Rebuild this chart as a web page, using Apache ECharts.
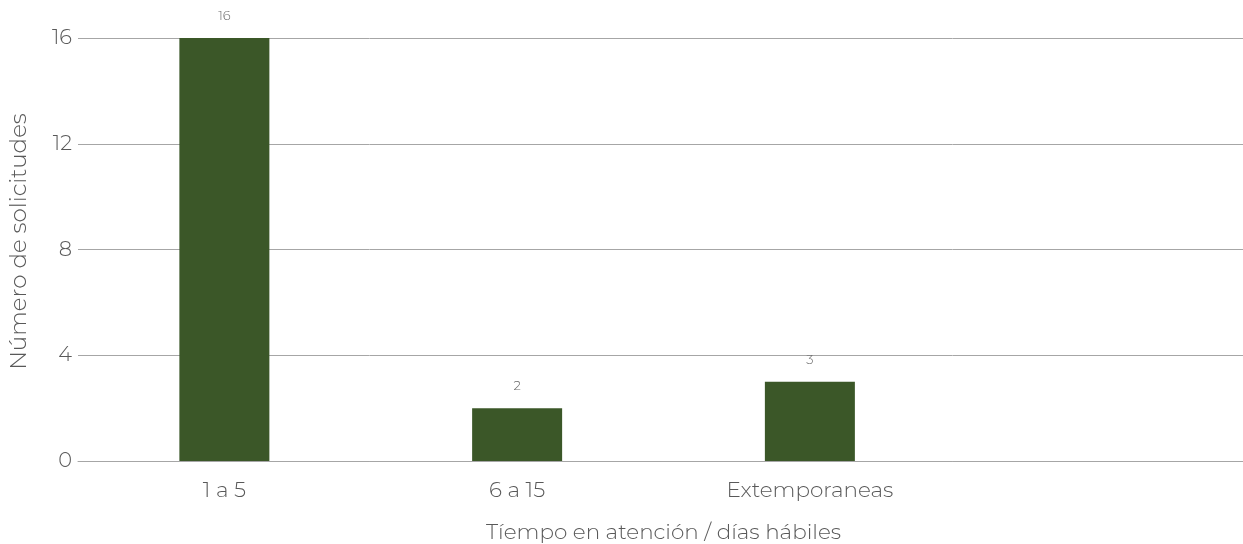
<!DOCTYPE html>
<html><head><meta charset="utf-8">
<script src="https://cdn.jsdelivr.net/npm/echarts@6/dist/echarts.min.js"></script>
<style>html,body{margin:0;padding:0;background:#fff}#c{width:1243px;height:544px}</style>
</head><body><div id="c"></div>
<script>
const categories = ['1 a 5', '6 a 15', 'Extemporaneas', ''];
const values = [16, 2, 3, null];
const yTicks = [0, 4, 8, 12, 16];

const chart = echarts.init(document.getElementById('c'), null, {renderer: 'canvas'});
const font = 'Montserrat, "Open Sans", sans-serif';
chart.setOption({
  animation: false,
  backgroundColor: '#ffffff',
  grid: {left: 78, right: -6, top: 38, bottom: 83, outerBoundsMode: 'none', containLabel: false},
  xAxis: {
    type: 'category', data: categories,
    name: 'Tíempo en atención / días hábiles', nameLocation: 'middle', nameGap: 61,
    nameTextStyle: {fontFamily: font, fontSize: 21.5, fontWeight: 300, color: '#595959'},
    axisLine: {lineStyle: {color: '#a6a6a6', width: 1}},
    axisTick: {show: false},
    axisLabel: {fontFamily: font, fontSize: 21.5, fontWeight: 300, color: '#595959', margin: 19}
  },
  yAxis: {
    type: 'value', min: yTicks[0], max: yTicks[yTicks.length - 1], interval: 4,
    name: 'Número de solicitudes', nameLocation: 'middle', nameGap: 47,
    nameTextStyle: {fontFamily: font, fontSize: 23, fontWeight: 300, color: '#595959', padding: [0, 0, 0, 16]},
    axisLine: {show: false}, axisTick: {show: false},
    axisLabel: {fontFamily: font, fontSize: 21, fontWeight: 300, color: '#595959', margin: 6},
    splitLine: {lineStyle: {color: '#a6a6a6', width: 1}}
  },
  series: [{
    type: 'bar', data: values, barWidth: 90,
    itemStyle: {color: '#3b5728'},
    label: {show: true, position: 'top', distance: 15, fontFamily: font, fontSize: 13, fontWeight: 300, color: '#6b6b6b'}
  }]
});
</script></body></html>
